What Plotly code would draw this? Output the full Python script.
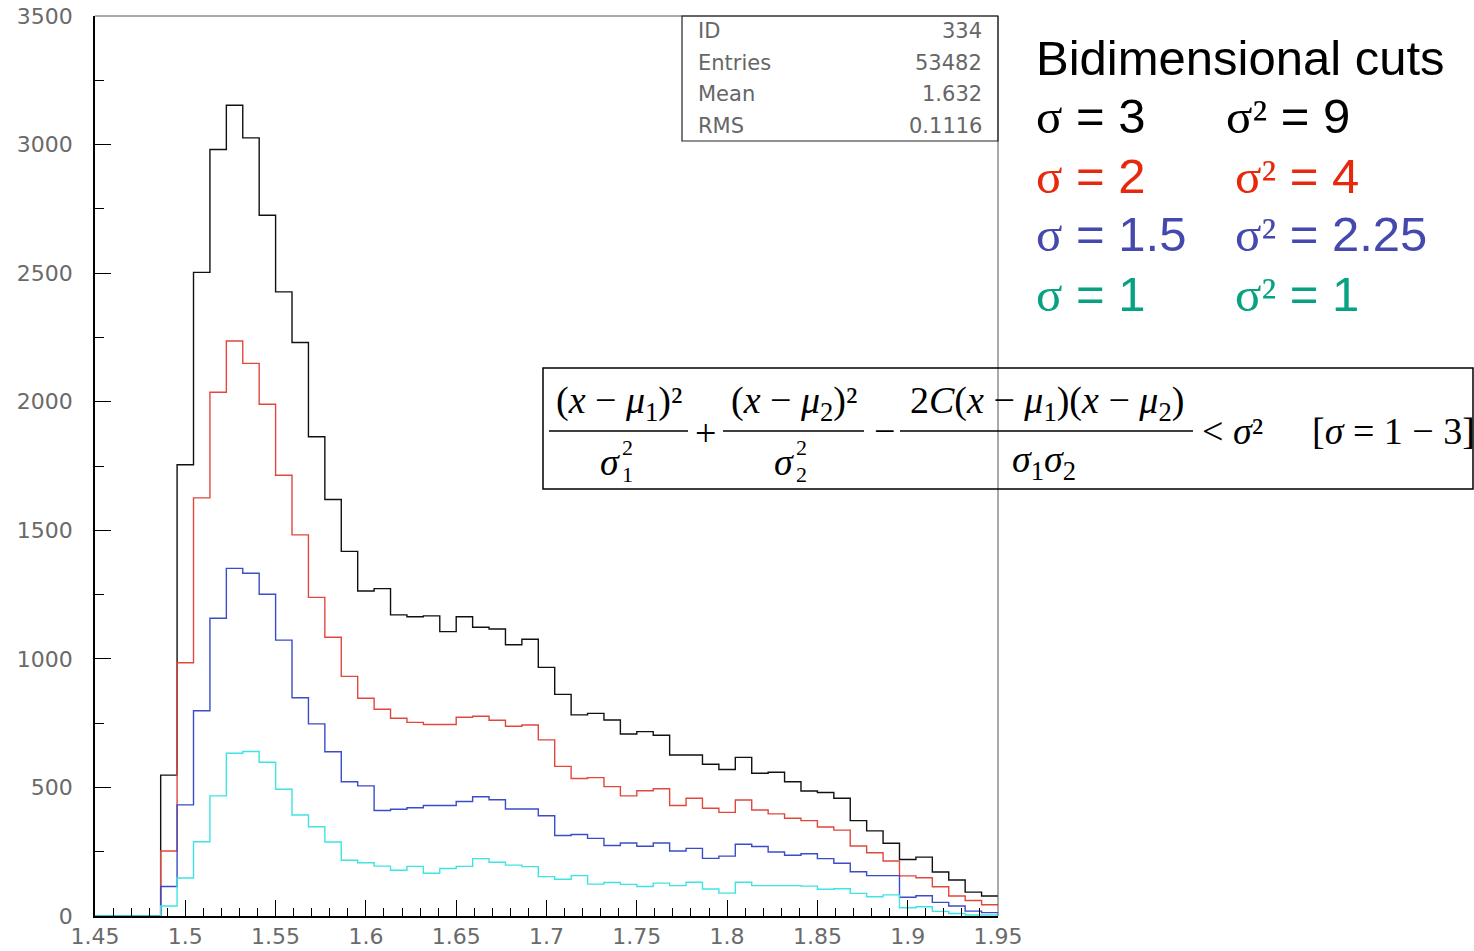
import numpy as np
import plotly.graph_objects as go

# Histogram binning: 55 bins between 1.45 and 1.95
x_lo, x_hi, n_bins = 1.45, 1.95, 55

# Bin contents for each cut value (sigma = 3, 2, 1.5, 1)
sigma3 = [0, 0, 0, 0, 548, 1755, 2503, 2981, 3153, 3026, 2725, 2427, 2230, 1864,
          1620, 1418, 1264, 1273, 1171, 1164, 1167, 1106, 1164, 1123,
          1116, 1055, 1076, 967, 862, 782, 788, 762, 708, 717,
          703, 626, 626, 590, 570, 617, 555, 559, 522, 486,
          480, 458, 371, 331, 283, 220, 229, 171, 140, 93, 78]
sigma2 = [0, 0, 0, 0, 253, 985, 1626, 2037, 2236, 2149, 1990, 1714, 1482, 1239,
          1084, 932, 847, 804, 769, 753, 745, 745, 773, 777,
          761, 738, 743, 685, 582, 535, 538, 503, 467, 487,
          495, 430, 458, 419, 403, 451, 412, 397, 380, 371,
          346, 334, 272, 246, 214, 156, 149, 114, 78, 60, 44]
sigma15 = [0, 0, 0, 0, 115, 432, 798, 1158, 1352, 1333, 1251, 1073, 849, 747,
           639, 522, 506, 410, 415, 421, 430, 430, 445, 464,
           452, 416, 416, 390, 313, 317, 302, 274, 284, 271,
           284, 253, 263, 224, 233, 279, 270, 249, 236, 242,
           223, 205, 172, 157, 157, 73, 79, 53, 39, 19, 13]
sigma1 = [0, 0, 0, 0, 39, 148, 289, 467, 633, 640, 598, 493, 393, 347,
          288, 217, 207, 194, 178, 193, 166, 185, 193, 223,
          209, 198, 192, 153, 143, 157, 124, 130, 123, 115,
          128, 118, 131, 105, 89, 131, 118, 118, 118, 116,
          104, 106, 88, 75, 82, 32, 36, 18, 10, 4, 4]

# Statistics box
stat_names = ["ID", "Entries", "Mean", "RMS"]
stat_values = ["334", "53482", "1.632", "0.1116"]

# Legend rows: (sigma label, sigma^2 label)
legend_sigma = ["3", "2", "1.5", "1"]
legend_sigma2 = ["9", "4", "2.25", "1"]

hist_colors = ["#111111", "#e2473d", "#3b4cc6", "#3fe3e3"]
legend_colors = ["#000000", "#e8280c", "#4549ae", "#08a283"]

# Figure geometry (pixels)
FIG_W, FIG_H = 1474, 951
L, R, T, B = 95, 998, 16, 916
W, H = R - L, B - T


def px(xp):
    return (xp - L) / W


def py(yp):
    return (B - yp) / H


edges = np.linspace(x_lo, x_hi, n_bins + 1)

fig = go.Figure()
for vals, col in zip([sigma3, sigma2, sigma15, sigma1], hist_colors):
    fig.add_trace(go.Scatter(
        x=edges, y=list(vals) + [vals[-1]], mode="lines",
        line=dict(color=col, width=1.4, shape="hv"),
        showlegend=False, hoverinfo="skip"))

tick_font = dict(family="DejaVu Sans", size=22, color="#6a6a6a")

fig.update_xaxes(
    range=[x_lo, x_hi], tick0=1.45, dtick=0.05, ticks="inside", ticklen=16,
    tickwidth=1, tickcolor="#000", showline=True, linecolor="#000", linewidth=1.5,
    showgrid=False, zeroline=False, tickfont=tick_font, ticklabelstandoff=0,
    minor=dict(dtick=0.01, ticks="inside", ticklen=8, tickcolor="#000", showgrid=False))
fig.update_yaxes(
    range=[0, 3500], dtick=500, ticks="inside", ticklen=16, tickwidth=1,
    tickcolor="#000", showline=True, linecolor="#000", linewidth=1.5,
    showgrid=False, zeroline=False, tickfont=tick_font, ticklabelstandoff=16,
    minor=dict(dtick=250, ticks="inside", ticklen=9, tickcolor="#000", showgrid=False))

shapes = []
# top and right frame lines
shapes.append(dict(type="line", xref="paper", yref="paper", x0=0, x1=1, y0=1, y1=1,
                   line=dict(color="#555", width=1)))
shapes.append(dict(type="line", xref="paper", yref="paper", x0=1, x1=1, y0=0, y1=1,
                   line=dict(color="#555", width=1)))
# statistics box
shapes.append(dict(type="rect", xref="paper", yref="paper",
                   x0=px(682), x1=px(998), y0=py(141), y1=py(16),
                   line=dict(color="#222", width=1.2)))
# formula box
shapes.append(dict(type="rect", xref="paper", yref="paper",
                   x0=px(543), x1=px(1473), y0=py(489), y1=py(368),
                   line=dict(color="#000", width=1.5)))

annotations = []


def note(text, x, y, size, color="#000", family="Liberation Sans", xanchor="left",
         yanchor="middle"):
    annotations.append(dict(text=text, x=px(x), y=py(y), xref="paper", yref="paper",
                            showarrow=False, xanchor=xanchor, yanchor=yanchor,
                            font=dict(family=family, size=size, color=color)))


# statistics box contents
for i, (nm, vl) in enumerate(zip(stat_names, stat_values)):
    yy = 31 + i * 31.7
    note(nm, 696, yy, 21, "#666", "DejaVu Sans", "left")
    note(vl, 984, yy, 21, "#666", "DejaVu Sans", "right")

# legend text
note("Bidimensional cuts", 1034, 58, 49, "#000")
SIG = "<span style='font-family:Liberation Serif'>σ</span>"
SIG2 = "<span style='font-family:Liberation Serif'>σ²</span>"
row_y = [116, 176, 235, 294]
col2_x = [1224, 1233, 1233, 1233]
for s, s2, c, yy, x2 in zip(legend_sigma, legend_sigma2, legend_colors, row_y, col2_x):
    note(f"{SIG} = {s}", 1034, yy, 49, c)
    note(f"{SIG2} = {s2}", x2, yy, 49, c)

# formula: three fractions
SERIF = "Liberation Serif"
FS = 38
num_y, bar_y, den_y = 403, 431, 462
fractions = [
    ("(<i>x</i> − <i>μ</i><sub>1</sub>)²", 549, 688),
    ("(<i>x</i> − <i>μ</i><sub>2</sub>)²", 723, 864),
    ("2<i>C</i>(<i>x</i> − <i>μ</i><sub>1</sub>)(<i>x</i> − <i>μ</i><sub>2</sub>)", 900, 1193),
]
for txt, x0, x1 in fractions:
    note(txt, (x0 + x1) / 2, num_y, FS, "#000", SERIF, "center")
    shapes.append(dict(type="line", xref="paper", yref="paper",
                       x0=px(x0), x1=px(x1), y0=py(bar_y), y1=py(bar_y),
                       line=dict(color="#000", width=1.5)))

# denominators
for x_sig, sub in [(598, "1"), (772, "2")]:
    note("<i>σ</i>", x_sig, den_y, FS, "#000", SERIF, "left")
    note("2", x_sig + 22, den_y - 15, 22, "#000", SERIF, "left")
    note(sub, x_sig + 22, den_y + 12, 22, "#000", SERIF, "left")
note("<i>σ</i><sub>1</sub><i>σ</i><sub>2</sub>", 1044, den_y, FS, "#000", SERIF, "center")

note("+", 705, bar_y + 2, FS, "#000", SERIF, "center")
note("−", 884, bar_y, FS, "#000", SERIF, "center")
note("&lt; <i>σ</i>²", 1200, bar_y, FS, "#000", SERIF, "left")
note("[<i>σ</i> = 1 − 3]", 1310, bar_y, FS, "#000", SERIF, "left")

fig.update_layout(
    width=FIG_W, height=FIG_H,
    margin=dict(l=L, r=FIG_W - R, t=T, b=FIG_H - B, autoexpand=False),
    paper_bgcolor="white", plot_bgcolor="white",
    shapes=shapes, annotations=annotations, showlegend=False)

fig.write_html("out.html")
